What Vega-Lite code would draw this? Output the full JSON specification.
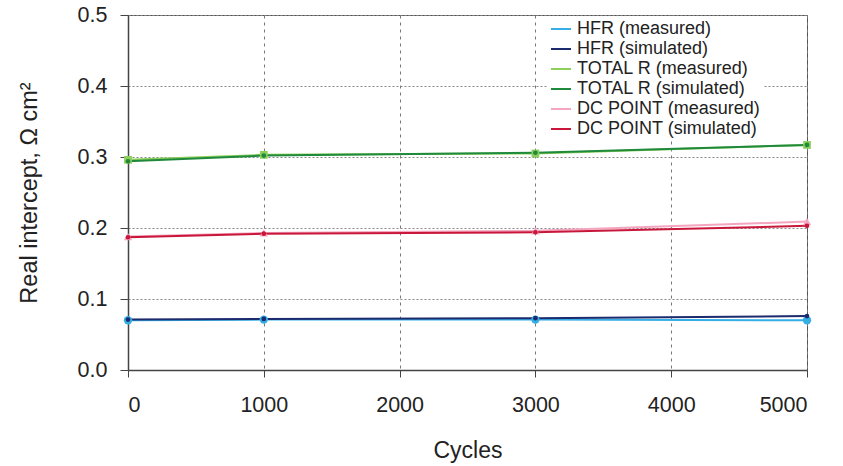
{
  "$schema": "https://vega.github.io/schema/vega-lite/v6.json",
  "width": 679,
  "height": 355,
  "autosize": {"type": "none"},
  "padding": {"left": 128, "top": 15, "right": 36, "bottom": 96},
  "background": "white",
  "config": {
    "font": "Liberation Sans",
    "view": {"stroke": "#555555", "strokeWidth": 1},
    "axis": {"labelFont": "Liberation Sans", "titleFont": "Liberation Sans", "labelColor": "#222", "titleColor": "#222", "domainColor": "#444", "tickColor": "#444", "domainWidth": 1.5, "titleFontWeight": "normal"}
  },
  "data": {
    "values": [
      {"cycle": 0, "series": "HFR (measured)", "value": 0.070},
      {"cycle": 1000, "series": "HFR (measured)", "value": 0.071},
      {"cycle": 3000, "series": "HFR (measured)", "value": 0.071},
      {"cycle": 5000, "series": "HFR (measured)", "value": 0.070},
      {"cycle": 0, "series": "HFR (simulated)", "value": 0.071},
      {"cycle": 1000, "series": "HFR (simulated)", "value": 0.072},
      {"cycle": 3000, "series": "HFR (simulated)", "value": 0.073},
      {"cycle": 5000, "series": "HFR (simulated)", "value": 0.076},
      {"cycle": 0, "series": "TOTAL R (measured)", "value": 0.296},
      {"cycle": 1000, "series": "TOTAL R (measured)", "value": 0.303},
      {"cycle": 3000, "series": "TOTAL R (measured)", "value": 0.305},
      {"cycle": 5000, "series": "TOTAL R (measured)", "value": 0.317},
      {"cycle": 0, "series": "TOTAL R (simulated)", "value": 0.294},
      {"cycle": 1000, "series": "TOTAL R (simulated)", "value": 0.302},
      {"cycle": 3000, "series": "TOTAL R (simulated)", "value": 0.306},
      {"cycle": 5000, "series": "TOTAL R (simulated)", "value": 0.317},
      {"cycle": 0, "series": "DC POINT (measured)", "value": 0.188},
      {"cycle": 1000, "series": "DC POINT (measured)", "value": 0.193},
      {"cycle": 3000, "series": "DC POINT (measured)", "value": 0.196},
      {"cycle": 5000, "series": "DC POINT (measured)", "value": 0.209},
      {"cycle": 0, "series": "DC POINT (simulated)", "value": 0.187},
      {"cycle": 1000, "series": "DC POINT (simulated)", "value": 0.192},
      {"cycle": 3000, "series": "DC POINT (simulated)", "value": 0.194},
      {"cycle": 5000, "series": "DC POINT (simulated)", "value": 0.203}
    ]
  },
  "encoding": {
    "x": {
      "field": "cycle", "type": "quantitative",
      "scale": {"domain": [0, 5000], "nice": false},
      "axis": {"title": "Cycles", "values": [0, 1000, 2000, 3000, 4000, 5000], "format": "d", "labelFontSize": 21.5, "titleFontSize": 23, "labelPadding": 17, "titlePadding": 24, "tickSize": 7, "gridDash": [3, 4], "gridColor": "#777", "gridWidth": 1, "grid": true}
    },
    "y": {
      "field": "value", "type": "quantitative",
      "scale": {"domain": [0, 0.5], "nice": false},
      "axis": {"title": "Real intercept, Ω cm²", "values": [0, 0.1, 0.2, 0.3, 0.4, 0.5], "format": ".1f", "labelFontSize": 21.5, "titleFontSize": 23.5, "labelPadding": 13, "titlePadding": 36, "tickSize": 8, "gridDash": [2, 2], "gridColor": "#888", "gridWidth": 1, "grid": true}
    },
    "color": {
      "field": "series", "type": "nominal",
      "scale": {
        "domain": ["HFR (measured)", "HFR (simulated)", "TOTAL R (measured)", "TOTAL R (simulated)", "DC POINT (measured)", "DC POINT (simulated)"],
        "range": ["#35aee6", "#1c2a6e", "#8ccf5a", "#1f8a3c", "#f4a6c0", "#c8173a"]
      },
      "legend": {
        "title": null, "orient": "none", "legendX": 420, "legendY": 1,
        "symbolType": "stroke", "symbolStrokeWidth": 2, "symbolSize": 400,
        "labelFontSize": 18, "labelFont": "Liberation Sans", "labelColor": "#222", "labelLimit": 400,
        "rowPadding": 0, "labelOffset": 5,
        "padding": 2, "fillColor": "white"
      }
    }
  },
  "layer": [
    {"mark": {"type": "line", "strokeWidth": 2}},
    {
      "transform": [{"filter": "datum.series == 'HFR (measured)'"}],
      "mark": {"type": "point", "shape": "circle", "filled": true, "opacity": 1, "size": 70}
    },
    {
      "transform": [{"filter": "datum.series == 'TOTAL R (measured)'"}],
      "mark": {"type": "point", "shape": "square", "filled": true, "opacity": 1, "size": 60}
    },
    {
      "transform": [{"filter": "datum.series == 'DC POINT (measured)'"}],
      "mark": {"type": "point", "shape": "triangle-up", "filled": true, "opacity": 1, "size": 70}
    },
    {
      "transform": [{"filter": "indexof(datum.series, 'simulated') >= 0"}],
      "mark": {"type": "point", "shape": "circle", "filled": true, "opacity": 1, "size": 22}
    }
  ]
}
